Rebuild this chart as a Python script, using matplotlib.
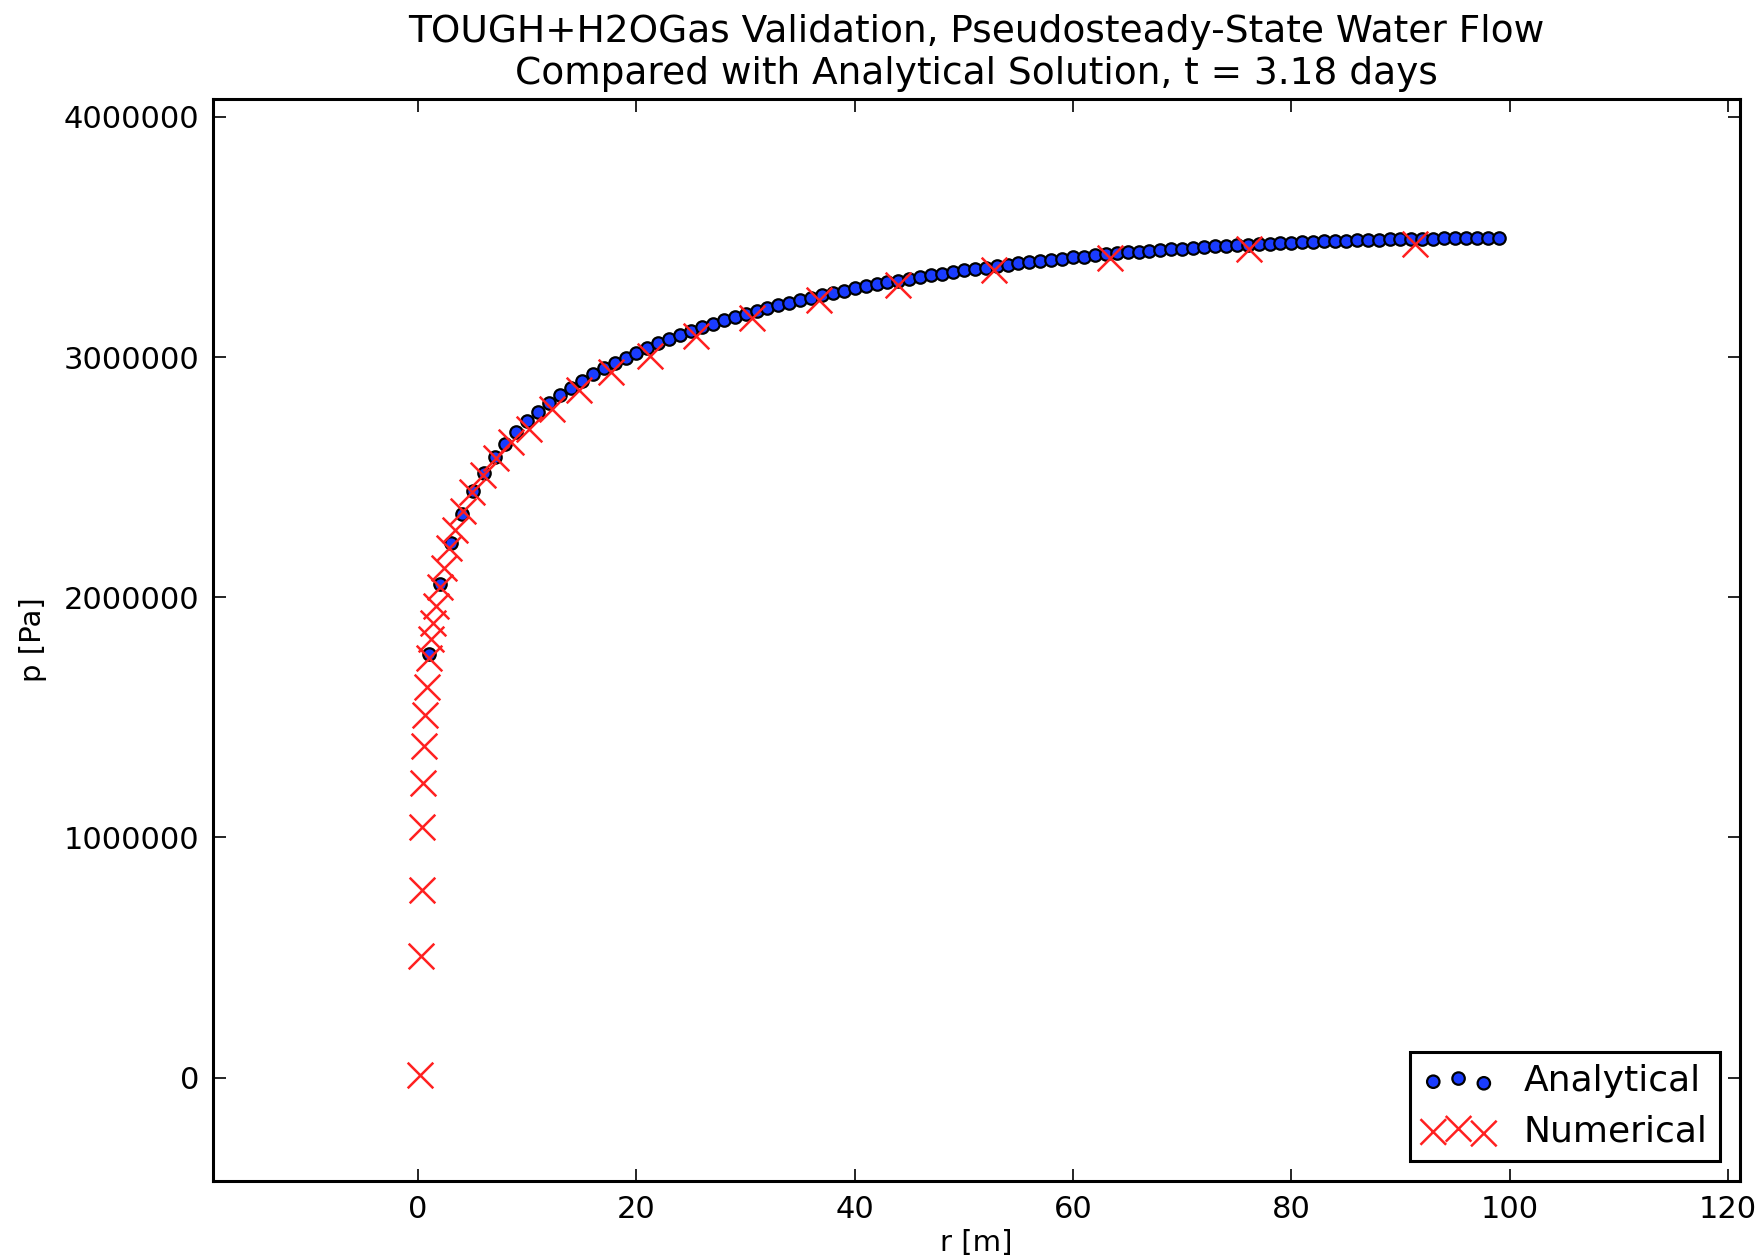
import matplotlib
matplotlib.use("Agg")
import matplotlib.pyplot as plt
from matplotlib.ticker import FixedLocator, ScalarFormatter

# ---- data ----
r_analytical = list(range(1, 100))
p_analytical_MPa = [
    1.763, 2.055, 2.226, 2.348, 2.442, 2.518, 2.583, 2.639, 2.689, 2.733,
    2.772, 2.809, 2.842, 2.873, 2.901, 2.928, 2.953, 2.976, 2.998, 3.019,
    3.039, 3.057, 3.075, 3.092, 3.108, 3.124, 3.138, 3.153, 3.166, 3.179,
    3.192, 3.204, 3.216, 3.227, 3.238, 3.248, 3.258, 3.268, 3.277, 3.286,
    3.295, 3.303, 3.311, 3.319, 3.327, 3.334, 3.341, 3.348, 3.355, 3.361,
    3.367, 3.373, 3.379, 3.385, 3.390, 3.396, 3.401, 3.406, 3.410, 3.415,
    3.419, 3.424, 3.428, 3.432, 3.436, 3.439, 3.443, 3.446, 3.449, 3.452,
    3.456, 3.458, 3.461, 3.464, 3.466, 3.469, 3.471, 3.473, 3.475, 3.477,
    3.479, 3.481, 3.482, 3.484, 3.485, 3.487, 3.488, 3.489, 3.490, 3.491,
    3.492, 3.493, 3.493, 3.494, 3.494, 3.495, 3.495, 3.495, 3.495,
]
r_numerical = [
    0.15, 0.27, 0.32, 0.38, 0.46, 0.55, 0.66, 0.79, 0.95, 1.14,
    1.37, 1.65, 1.98, 2.37, 2.85, 3.4, 4.1, 4.9, 5.9, 7.1,
    8.5, 10.2, 12.3, 14.7, 17.7, 21.2, 25.5, 30.6, 36.7, 44.0,
    52.8, 63.4, 76.1, 91.3,
]
p_numerical_MPa = [
    0.010, 0.506, 0.780, 1.043, 1.226, 1.382, 1.511, 1.628, 1.748, 1.826,
    1.895, 1.965, 2.042, 2.121, 2.205, 2.281, 2.360, 2.440, 2.510, 2.580,
    2.645, 2.700, 2.786, 2.862, 2.939, 3.005, 3.087, 3.161, 3.237, 3.300,
    3.362, 3.411, 3.452, 3.473,
]
x_ticks = [0, 20, 40, 60, 80, 100, 120]
y_ticks = [0, 1000000, 2000000, 3000000, 4000000]

p_analytical = [v * 1e6 for v in p_analytical_MPa]
p_numerical = [v * 1e6 for v in p_numerical_MPa]

# ---- figure ----
fig = plt.figure(figsize=(17.6, 12.59), dpi=100)
ax = fig.add_axes([0.121, 0.062, 0.8676, 0.8594])

ax.scatter(r_analytical, p_analytical, s=80, c="#1a3cff", edgecolors="black",
           linewidths=1.6, label="Analytical", zorder=3)
ax.scatter(r_numerical, p_numerical, s=340, marker="x", c="#ff2020",
           linewidths=1.8, label="Numerical", zorder=4)

ax.set_xlim(-18.8, 121.1)
ax.set_ylim(-430000, 4075000)
ax.xaxis.set_major_locator(FixedLocator(x_ticks))
ax.yaxis.set_major_locator(FixedLocator(y_ticks))
fmt = ScalarFormatter(useOffset=False)
fmt.set_scientific(False)
ax.yaxis.set_major_formatter(fmt)

ax.tick_params(direction="in", length=9, width=1.2, top=True, right=True,
               labelsize=22, pad=10, colors="black")
for s in ax.spines.values():
    s.set_linewidth(2.2)

ax.set_xlabel("r [m]", fontsize=21, labelpad=4)
ax.set_ylabel("p [Pa]", fontsize=21, labelpad=12)
ax.set_title("TOUGH+H2OGas Validation, Pseudosteady-State Water Flow\n"
             "Compared with Analytical Solution, t = 3.18 days",
             fontsize=27, pad=11, linespacing=1.2)

leg = ax.legend(loc="lower right", fontsize=26, scatterpoints=3,
                fancybox=False, framealpha=1, edgecolor="black",
                borderaxespad=0.55, handlelength=2.0, handletextpad=0.8,
                labelspacing=0.45, borderpad=0.35)
leg.get_frame().set_linewidth(2.2)

fig.savefig("out.png", dpi=100)
